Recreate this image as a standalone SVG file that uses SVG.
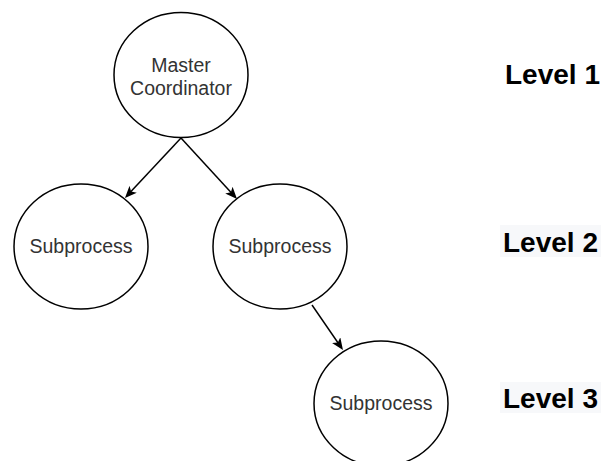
<svg xmlns="http://www.w3.org/2000/svg" width="605" height="461" viewBox="0 0 605 461">
  <style>
    .node { fill: #ffffff; stroke: #000000; stroke-width: 1.5; }
    .label { font-family: "Liberation Sans", Arial, Helvetica, sans-serif; font-size: 19.5px; fill: #333333; text-anchor: middle; }
    .level { font-family: "Liberation Sans", Arial, Helvetica, sans-serif; font-size: 28px; font-weight: bold; fill: #000000; }
    .level-bg { fill: #f7f8fa; }
    .edge { fill: none; stroke: #000000; stroke-width: 1.5; }
  </style>
  <defs>
    <marker id="arrow" viewBox="0 0 12 10" refX="8" refY="5" markerWidth="12" markerHeight="10" markerUnits="userSpaceOnUse" orient="auto">
      <path d="M12,5 L0,0 L3,5 L0,10 Z" fill="#000000"/>
    </marker>
  </defs>

  <rect width="605" height="461" fill="#ffffff"/>

  <!-- tree nodes -->
  <g id="master">
    <ellipse class="node" cx="181" cy="75" rx="67" ry="62.5"/>
    <text class="label" x="181" y="72">Master</text>
    <text class="label" x="181" y="95">Coordinator</text>
  </g>
  <g id="sub-left">
    <ellipse class="node" cx="81" cy="246.5" rx="67" ry="62.5"/>
    <text class="label" x="81" y="253">Subprocess</text>
  </g>
  <g id="sub-middle">
    <ellipse class="node" cx="280" cy="246.5" rx="67" ry="62.5"/>
    <text class="label" x="280" y="253">Subprocess</text>
  </g>
  <g id="sub-bottom">
    <ellipse class="node" cx="381" cy="403.5" rx="67" ry="62.5"/>
    <text class="label" x="381" y="410">Subprocess</text>
  </g>

  <!-- connectors -->
  <g id="edges">
    <line class="edge" x1="181" y1="138" x2="127.7" y2="195.1" marker-end="url(#arrow)"/>
    <line class="edge" x1="181" y1="138" x2="234.3" y2="196.05" marker-end="url(#arrow)"/>
    <line class="edge" x1="312" y1="305" x2="340.7" y2="346.7" marker-end="url(#arrow)"/>
  </g>

  <!-- level captions -->
  <g id="level-1">
    <text class="level" x="505" y="84">Level 1</text>
  </g>
  <g id="level-2">
    <rect class="level-bg" x="500" y="225" width="101" height="32"/>
    <text class="level" x="503" y="252">Level 2</text>
  </g>
  <g id="level-3">
    <rect class="level-bg" x="500" y="382" width="101" height="31"/>
    <text class="level" x="503" y="408">Level 3</text>
  </g>
</svg>
